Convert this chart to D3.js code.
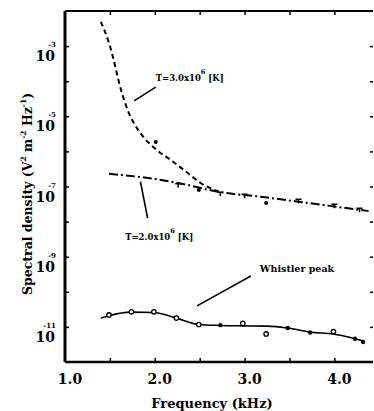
<!DOCTYPE html>
<html><head><meta charset="utf-8">
<script src="https://cdn.jsdelivr.net/npm/d3@7"></script>
<style>body{margin:0;background:#fff}svg{display:block}</style>
</head><body>
<svg id="c" width="374" height="411"></svg>
<script>
// ---- data ----
const xTicks = [1.0, 2.0, 3.0, 4.0];
const xMinorTicks = [1.5, 2.0, 2.5, 3.0, 3.5, 4.0];
const yLabelExps = [-3, -5, -7, -9, -11];
const yTickExps = [-3, -4, -5, -6, -7, -8, -9, -10, -11];

// T = 3.0e6 K model (dashed)
const hotFreq = [1.40, 1.49, 1.64, 1.71, 1.76, 1.87, 2.01, 2.18, 2.34, 2.51, 2.73];
const hotVal  = [4.9e-3, 1.23e-3, 4.1e-5, 1.26e-5, 6.9e-6, 2.63e-6, 1.17e-6, 5.6e-7, 2.75e-7, 1.26e-7, 6.9e-8];
// T = 2.0e6 K model (dash-dot)
const warmFreq = [1.49, 1.84, 2.26, 2.73, 3.21, 3.88, 4.38];
const warmVal  = [2.29e-7, 1.86e-7, 1.26e-7, 6.9e-8, 5.0e-8, 2.95e-8, 2.0e-8];
// scattered observations near the model curves
const obsFreq = [2.01, 2.49, 3.24];
const obsVal  = [1.86e-6, 7.9e-8, 3.4e-8];
const markFreq = [2.26, 2.73, 3.0, 3.6, 4.0, 4.28];
const markVal  = [1.2e-7, 6.9e-8, 6.0e-8, 4.3e-8, 3.1e-8, 2.4e-8];
// Whistler peak (solid)
const whFreq = [1.40, 1.49, 1.74, 1.99, 2.24, 2.49, 2.73, 2.98, 3.24, 3.48, 3.73, 3.99, 4.23, 4.32];
const whVal  = [1.78e-11, 2.09e-11, 2.63e-11, 2.57e-11, 1.78e-11, 1.17e-11, 1.10e-11, 1.07e-11, 1.05e-11, 9.3e-12, 7.1e-12, 6.3e-12, 4.6e-12, 4.0e-12];
const whOpenFreq = [1.49, 1.74, 1.99, 2.24, 2.49, 2.98, 3.24, 3.99];
const whOpenVal  = [2.19e-11, 2.69e-11, 2.69e-11, 1.78e-11, 1.17e-11, 1.26e-11, 6.3e-12, 7.4e-12];
const whDotFreq = [2.73, 3.48, 3.73, 4.23, 4.32];
const whDotVal  = [1.12e-11, 9.3e-12, 6.9e-12, 4.6e-12, 3.7e-12];

// ---- layout ----
const L = 65, R = 373, T = 11, B = 362;
const svg = d3.select('#c');
const x = d3.scaleLinear().domain([1.0, 4.43]).range([L, R]);
const y = d3.scaleLog().domain([1e-12, 1e-2]).range([B, T]);
const serif = "'DejaVu Serif', 'Liberation Serif', serif";

// frame
svg.append('line').attr('x1', L).attr('x2', L).attr('y1', T).attr('y2', B).attr('stroke', '#000').attr('stroke-width', 3);
svg.append('line').attr('x1', L).attr('x2', R).attr('y1', B).attr('y2', B).attr('stroke', '#000').attr('stroke-width', 2.5);
svg.append('line').attr('x1', L).attr('x2', R).attr('y1', T).attr('y2', T).attr('stroke', '#000').attr('stroke-width', 2);

// ticks via axes (inward)
const gB = svg.append('g').attr('transform', `translate(0,${B})`)
  .call(d3.axisTop(x).tickValues(xMinorTicks).tickSize(4).tickFormat(''));
const gT = svg.append('g').attr('transform', `translate(0,${T})`)
  .call(d3.axisBottom(x).tickValues(xMinorTicks).tickSize(4).tickFormat(''));
const gL = svg.append('g').attr('transform', `translate(${L},0)`)
  .call(d3.axisRight(y).tickValues(yTickExps.map(e => Math.pow(10, e))).tickSize(4).tickFormat(''));
const gR = svg.append('g').attr('transform', `translate(${R},0)`)
  .call(d3.axisLeft(y).tickValues(yTickExps.map(e => Math.pow(10, e))).tickSize(3).tickFormat(''));
[gB, gT, gL, gR].forEach(g => { g.select('.domain').remove(); g.selectAll('line').attr('stroke-width', 1.5); });

// x tick labels
svg.append('g').selectAll('text').data(xTicks).join('text')
  .attr('x', d => x(d) + 5).attr('y', B + 22).attr('text-anchor', 'middle')
  .attr('font-family', serif).attr('font-size', 14).attr('font-weight', 'bold')
  .text(d => d.toFixed(1));

// y tick labels: 10 with superscript exponent
const yl = svg.append('g').selectAll('g').data(yLabelExps).join('g')
  .attr('transform', d => `translate(${L - 10},${y(Math.pow(10, d)) + 15})`);
yl.append('text').attr('text-anchor', 'end')
  .attr('font-family', serif).attr('font-size', 14).attr('font-weight', 'bold').text('10');
yl.append('text').attr('x', 1).attr('y', -14).attr('text-anchor', 'end')
  .attr('font-family', serif).attr('font-size', 7).attr('font-weight', 'bold').text(d => '-' + (-d));

// axis titles
svg.append('text').attr('x', 212).attr('y', 408).attr('text-anchor', 'middle')
  .attr('font-family', serif).attr('font-size', 13).attr('font-weight', 'bold').text('Frequency (kHz)');
const yt = svg.append('text').attr('transform', 'translate(32,194) rotate(-90)').attr('text-anchor', 'middle')
  .attr('font-family', serif).attr('font-size', 12.5).attr('font-weight', 'bold');
yt.append('tspan').text('Spectral density (V');
yt.append('tspan').attr('font-size', 7.5).attr('dy', -6).text('2');
yt.append('tspan').attr('dy', 6).text(' m');
yt.append('tspan').attr('font-size', 7.5).attr('dy', -6).text('-2');
yt.append('tspan').attr('dy', 6).text(' Hz');
yt.append('tspan').attr('font-size', 7.5).attr('dy', -6).text('-1');
yt.append('tspan').attr('dy', 6).text(')');

// curves
const line = d3.line().x(d => x(d[0])).y(d => y(d[1])).curve(d3.curveMonotoneX);
const zip = (a, b) => a.map((v, i) => [v, b[i]]);
svg.append('path').attr('d', line(zip(hotFreq, hotVal))).attr('fill', 'none')
  .attr('stroke', '#000').attr('stroke-width', 2).attr('stroke-dasharray', '5,3.5');
svg.append('path').attr('d', line(zip(warmFreq, warmVal))).attr('fill', 'none')
  .attr('stroke', '#000').attr('stroke-width', 2).attr('stroke-dasharray', '9,3,2,3');
svg.append('path').attr('d', line(zip(whFreq, whVal))).attr('fill', 'none')
  .attr('stroke', '#000').attr('stroke-width', 1.6);

// markers
svg.append('g').selectAll('circle').data(zip(obsFreq, obsVal)).join('circle')
  .attr('cx', d => x(d[0])).attr('cy', d => y(d[1])).attr('r', 2).attr('fill', '#000');
svg.append('g').selectAll('path').data(zip(markFreq, markVal)).join('path')
  .attr('d', d => `M${x(d[0]) - 3},${y(d[1])}h6M${x(d[0])},${y(d[1])}v4`)
  .attr('stroke', '#000').attr('stroke-width', 1.5);
svg.append('g').selectAll('circle').data(zip(whOpenFreq, whOpenVal)).join('circle')
  .attr('cx', d => x(d[0])).attr('cy', d => y(d[1])).attr('r', 2.2)
  .attr('fill', '#fff').attr('stroke', '#000').attr('stroke-width', 1.3);
svg.append('g').selectAll('circle').data(zip(whDotFreq, whDotVal)).join('circle')
  .attr('cx', d => x(d[0])).attr('cy', d => y(d[1])).attr('r', 2.2).attr('fill', '#000');

// annotations
function label(fx, ev, parts) {
  const t = svg.append('text').attr('x', x(fx)).attr('y', y(Math.pow(10, ev)))
    .attr('font-family', serif).attr('font-size', 8.5).attr('font-weight', 'bold');
  parts.forEach(p => {
    const s = t.append('tspan').text(p.t);
    if (p.sup) s.attr('font-size', 6.5).attr('dy', -7);
    if (p.back) s.attr('dy', 7);
  });
}
function pointer(f1, e1, f2, e2) {
  svg.append('line').attr('x1', x(f1)).attr('y1', y(Math.pow(10, e1)))
    .attr('x2', x(f2)).attr('y2', y(Math.pow(10, e2))).attr('stroke', '#000').attr('stroke-width', 1.6);
}
label(2.01, -3.99, [{t: 'T=3.0x10'}, {t: '6', sup: true}, {t: ' [K]', back: true}]);
pointer(2.01, -4.17, 1.77, -4.56);
label(1.67, -8.52, [{t: 'T=2.0x10'}, {t: '6', sup: true}, {t: ' [K]', back: true}]);
pointer(1.84, -6.86, 1.92, -7.90);
svg.append('text').attr('x', x(3.17)).attr('y', y(Math.pow(10, -9.44)))
  .attr('font-family', serif).attr('font-size', 9.5).attr('font-weight', 'bold').text('Whistler peak');
pointer(3.07, -9.55, 2.47, -10.40);
</script>
</body></html>
